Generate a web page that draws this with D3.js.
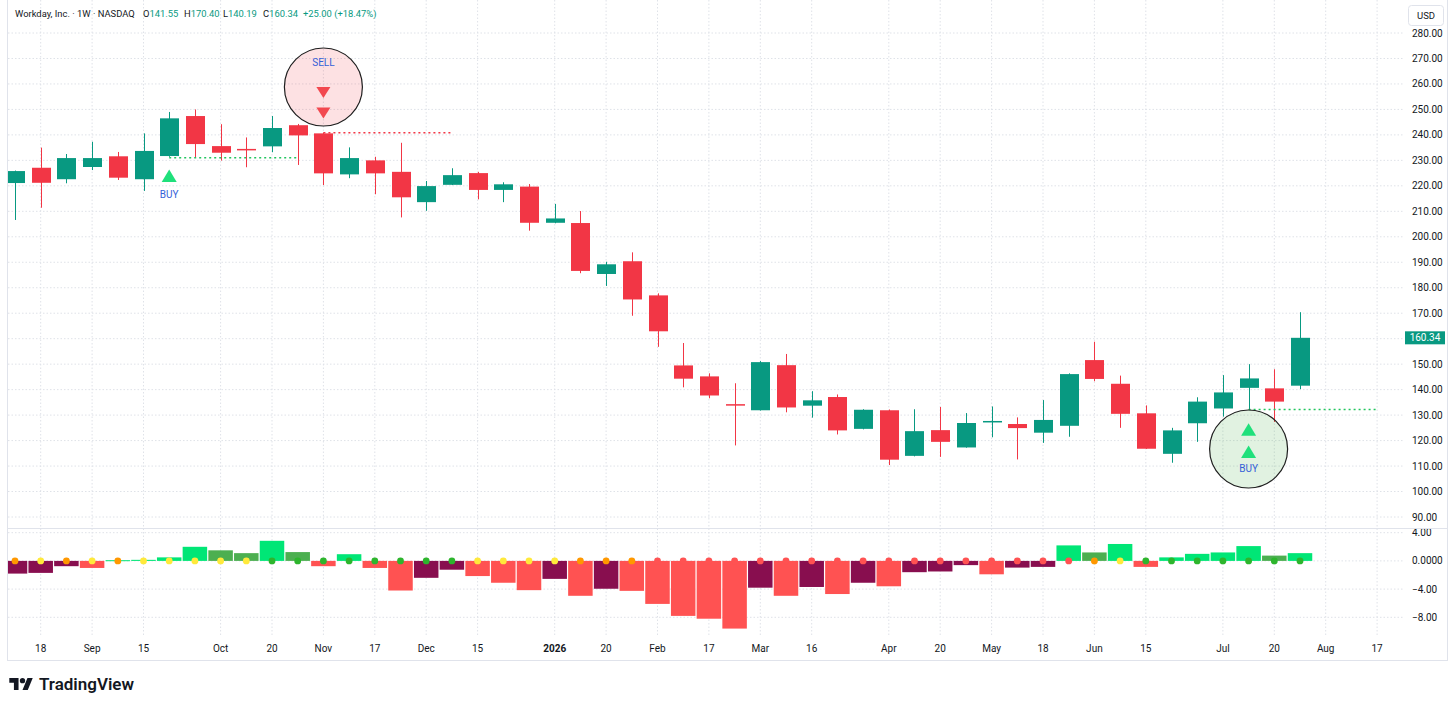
<!DOCTYPE html>
<html><head><meta charset="utf-8">
<script src="https://cdn.jsdelivr.net/npm/d3@7/dist/d3.min.js"></script>
<style>
body{margin:0;background:#fff;}
svg{display:block;font-family:Roboto,"Noto Sans",sans-serif;}
</style>
</head><body>
<svg id="c" width="1456" height="708"></svg>
<script>
// ---------------- DATA ----------------
const opens  = [221.1,227.1,222.6,227.4,231.6,222.6,231.7,247.4,235.6,234.5,235.5,243.8,240.6,224.5,230.0,225.5,213.6,220.4,225.0,218.4,219.7,205.5,205.4,185.4,190.4,177.0,149.5,145.2,134.3,131.9,149.6,133.7,137.1,124.6,131.9,114.0,124.1,117.3,127.2,126.5,123.1,125.8,151.6,142.3,130.7,114.8,126.8,132.6,140.7,140.5,141.55];
const highs  = [226.0,235.0,232.5,237.3,233.3,240.6,249.0,250.0,244.2,239.0,247.4,244.3,240.9,235.1,231.4,236.9,221.9,226.9,225.5,221.4,220.7,212.9,210.1,190.2,193.9,177.8,158.3,146.4,142.5,151.2,154.0,139.4,138.1,132.3,132.2,132.3,133.2,130.8,133.4,129.1,135.9,146.4,158.8,145.5,133.8,125.0,137.0,145.7,150.0,148.0,170.40];
const lows   = [206.6,211.4,221.0,226.2,222.3,218.0,231.4,231.2,229.9,227.3,233.2,228.2,220.3,223.0,216.7,207.6,210.2,220.3,214.7,213.6,202.4,205.3,185.7,180.7,169.0,156.8,140.9,136.6,118.1,131.8,131.1,129.0,122.4,124.4,110.4,113.8,113.6,117.2,121.3,112.6,119.1,121.5,143.3,125.0,116.7,111.3,119.5,129.4,132.0,127.3,140.19];
const closes = [225.8,221.2,230.9,230.9,223.2,233.7,246.5,236.4,233.0,234.2,242.7,239.8,224.9,230.9,224.9,215.5,219.9,224.2,218.4,220.6,205.5,207.2,186.6,189.2,175.4,162.9,144.3,137.7,134.0,150.8,133.0,135.8,124.0,132.1,112.5,123.7,119.5,126.9,127.7,124.9,128.1,146.1,144.2,130.5,116.8,124.0,135.3,138.9,144.4,135.3,160.34];

// squeeze momentum histogram
const momentum = [-1.8,-1.7,-0.75,-1.0,0.1,0.15,0.5,2.0,1.5,1.1,2.85,1.25,-0.75,0.95,-1.0,-4.2,-2.4,-1.25,-2.15,-3.1,-4.15,-2.55,-4.95,-3.95,-4.25,-6.1,-7.8,-8.2,-9.6,-3.8,-4.95,-3.7,-4.7,-3.1,-3.6,-1.6,-1.5,-0.6,-1.9,-0.95,-0.85,2.2,1.2,2.4,-0.85,0.5,1.0,1.2,2.1,0.75,1.1];
// squeeze dot state: o=orange, y=yellow, g=green, r=red
const dots = ["o","y","o","y","o","y","y","y","y","y","g","g","g","g","g","g","g","g","y","y","y","y","o","o","o","r","r","r","r","r","r","r","r","r","r","r","r","r","r","r","r","r","o","y","g","g","g","g","g","g","g"];

// time axis (week index -> label)
const tickIdx    = [1,3,5,8,10,12,14,16,18,21,23,25,27,29,31,34,36,38,40,42,44,47,49,51,53];
const tickLabels = ["18","Sep","15","Oct","20","Nov","17","Dec","15","2026","20","Feb","17","Mar","16","Apr","20","May","18","Jun","15","Jul","20","Aug","17"];
const priceTicks = [90,100,110,120,130,140,150,160,170,180,190,200,210,220,230,240,250,260,270,280];
const momTicks   = [4,0,-4,-8];

// signals
const signalLines = [
  {from:6,  to:11, price:231.0, type:"buy"},
  {from:12, to:17, price:240.8, type:"sell"},
  {from:48, to:53, price:132.2, type:"buy"}
];
const circles = [
  {i:12, price:258.8, type:"sell"},
  {i:48, price:116.7, type:"buy"}
];
const triangles = [
  {i:6,  price:223.9, type:"buy"},
  {i:12, price:256.6, type:"sell"},
  {i:12, price:248.6, type:"sell"},
  {i:48, price:124.3, type:"buy"},
  {i:48, price:115.5, type:"buy"}
];
const signalTexts = [
  {i:6,  price:216.6, text:"BUY"},
  {i:12, price:268.6, text:"SELL"},
  {i:48, price:109.0, text:"BUY"}
];
const headerParts = [
  {k:"", v:"Workday, Inc. · 1W · NASDAQ"},
  {k:"O", v:"141.55"},
  {k:"H", v:"170.40"},
  {k:"L", v:"140.19"},
  {k:"C", v:"160.34"},
  {k:"", v:"+25.00 (+18.47%)"}
];

// ---------------- LAYOUT ----------------
const svg = d3.select("#c");
const plotL = 8, plotR = 1404, paneSep = 528, axisTop = 637;
const x  = d3.scaleLinear().domain([0,50]).range([15,1300]);
const y  = d3.scaleLinear().domain([90,280]).range([517,33]);
const yi = d3.scaleLinear().domain([-8,4]).range([617.3,532.7]);
const step = x(1)-x(0);
const bodyW = 19, barW = step-1.2;

const UP="#089981", DN="#f23645", GRID="#dfe2e8";

const defs = svg.append("defs");
defs.append("clipPath").attr("id","cp").append("rect").attr("x",plotL).attr("y",0).attr("width",plotR-plotL).attr("height",paneSep);
defs.append("clipPath").attr("id","ci").append("rect").attr("x",plotL).attr("y",paneSep).attr("width",plotR-plotL).attr("height",axisTop-paneSep);
defs.append("clipPath").attr("id","cia").append("rect").attr("x",1400).attr("y",paneSep+1).attr("width",50).attr("height",axisTop-paneSep);

// grid
const g = svg.append("g");
g.selectAll(".vg").data(tickIdx).join("line")
  .attr("x1",d=>x(d)).attr("x2",d=>x(d)).attr("y1",0).attr("y2",axisTop)
  .attr("stroke",GRID).attr("stroke-dasharray","1.5,2");
g.selectAll(".hg").data(priceTicks).join("line")
  .attr("x1",plotL).attr("x2",plotR).attr("y1",d=>y(d)).attr("y2",d=>y(d))
  .attr("stroke",GRID).attr("stroke-dasharray","1.5,2");
g.selectAll(".hgi").data(momTicks).join("line")
  .attr("x1",plotL).attr("x2",plotR).attr("y1",d=>yi(d)).attr("y2",d=>yi(d))
  .attr("stroke",GRID).attr("stroke-dasharray","1.5,2");

// frame
svg.append("line").attr("x1",plotL-0.5).attr("x2",1447.5).attr("y1",paneSep+0.5).attr("y2",paneSep+0.5).attr("stroke","#e0e3eb");
svg.append("rect").attr("x",7.5).attr("y",-1).attr("width",1440).attr("height",661.5).attr("fill","none").attr("stroke","#e0e3eb");

// candles
const candles = d3.range(opens.length).map(i=>({i,o:opens[i],h:highs[i],l:lows[i],c:closes[i]}));
const cg = svg.append("g").attr("clip-path","url(#cp)");
cg.selectAll(".wick").data(candles).join("line")
  .attr("x1",d=>Math.round(x(d.i))+0.5).attr("x2",d=>Math.round(x(d.i))+0.5)
  .attr("y1",d=>y(d.h)).attr("y2",d=>y(d.l))
  .attr("stroke",d=>d.c>=d.o?UP:DN).attr("stroke-width",1);
cg.selectAll(".body").data(candles).join("rect")
  .attr("x",d=>Math.round(x(d.i))+0.5-bodyW/2).attr("width",bodyW)
  .attr("y",d=>y(Math.max(d.o,d.c)))
  .attr("height",d=>Math.max(1.5,Math.abs(y(d.o)-y(d.c))))
  .attr("fill",d=>d.c>=d.o?UP:DN);

// signal dotted lines
cg.selectAll(".sl").data(signalLines).join("line")
  .attr("x1",d=>x(d.from)).attr("x2",d=>x(d.to))
  .attr("y1",d=>y(d.price)).attr("y2",d=>y(d.price))
  .attr("stroke",d=>d.type==="buy"?"#22c55e":DN).attr("stroke-width",1.5).attr("stroke-dasharray","2,3");

// circles
cg.selectAll(".circ").data(circles).join("circle")
  .attr("cx",d=>x(d.i)).attr("cy",d=>y(d.price)).attr("r",39)
  .attr("fill",d=>d.type==="buy"?"rgba(76,175,80,0.17)":"rgba(242,54,69,0.15)")
  .attr("stroke","#1e1e1e").attr("stroke-width",1.2);

// triangles
cg.selectAll(".tri").data(triangles).join("path")
  .attr("transform",d=>`translate(${x(d.i)},${y(d.price)})`)
  .attr("d",d=>d.type==="buy" ? "M0,-6.5L7.5,6L-7.5,6Z" : "M-7,-5.5L7,-5.5L0,5.5Z")
  .attr("fill",d=>d.type==="buy"?"#1fe07b":"#f2484f");
cg.selectAll(".st").data(signalTexts).join("text")
  .attr("x",d=>x(d.i)).attr("y",d=>y(d.price)).attr("dy","0.35em")
  .attr("text-anchor","middle").attr("font-size",10).attr("fill","#3460d8").text(d=>d.text);

// momentum histogram
const mom = momentum.map((v,i)=>{
  const p = i>0?momentum[i-1]:v;
  let col;
  if(v>=0) col = (i===0||v>p)?"#00e676":"#4caf50";
  else col = (i===0||v>=p)?"#880e4f":"#ff5252";
  return {i,v,col,dot:dots[i]};
});
const ig = svg.append("g").attr("clip-path","url(#ci)");
ig.selectAll(".bar").data(mom).join("rect")
  .attr("x",d=>x(d.i)-barW/2).attr("width",barW)
  .attr("y",d=>yi(Math.max(0,d.v))).attr("height",d=>Math.max(1,Math.abs(yi(d.v)-yi(0))))
  .attr("fill",d=>d.col);
const dotCol = {o:"#ff9800",y:"#ffe93b",g:"#2db52d",r:"#ff5252"};
ig.selectAll(".dot").data(mom).join("circle")
  .attr("cx",d=>x(d.i)).attr("cy",yi(0)).attr("r",3.4).attr("fill",d=>dotCol[d.dot]);

// price axis labels
const AX = 1412, TXT="#131722";
svg.append("g").selectAll("text").data(priceTicks.filter(d=>d!==160)).join("text")
  .attr("x",AX).attr("y",d=>y(d)).attr("dy","0.35em").attr("font-size",10).attr("fill",TXT)
  .text(d=>d3.format(".2f")(d));
// last price label
const lastY = y(closes[closes.length-1]);
svg.append("rect").attr("x",1405).attr("y",lastY-6.5).attr("width",40).attr("height",13).attr("fill",UP);
svg.append("text").attr("x",1425).attr("y",lastY).attr("dy","0.35em").attr("text-anchor","middle")
  .attr("font-size",10).attr("fill","#fff").text(d3.format(".2f")(closes[closes.length-1]));
// USD
svg.append("rect").attr("x",1408.5).attr("y",5.5).attr("width",35).attr("height",20).attr("rx",3)
  .attr("fill","#fff").attr("stroke","#e0e3eb");
svg.append("text").attr("x",1426).attr("y",15.5).attr("dy","0.35em").attr("text-anchor","middle")
  .attr("font-size",9.5).attr("fill",TXT).text("USD");
// momentum axis labels
svg.append("g").attr("clip-path","url(#cia)").selectAll("text").data(momTicks).join("text")
  .attr("x",AX).attr("y",d=>yi(d)).attr("dy","0.35em").attr("font-size",10).attr("fill",TXT)
  .text(d=>d===0?"0.0000":(d<0?"\u2212":"")+d3.format(".2f")(Math.abs(d)));

// time axis labels
svg.append("g").selectAll("text").data(tickIdx).join("text")
  .attr("x",d=>x(d)).attr("y",648).attr("dy","0.35em").attr("text-anchor","middle")
  .attr("font-size",10).attr("fill",TXT)
  .attr("font-weight",(d,k)=>/^\d{4}$/.test(tickLabels[k])?"bold":"normal")
  .text((d,k)=>tickLabels[k]);

// header (left positions of each legend item)
const hx = [15,143,184,223,263,303];
headerParts.forEach((p,k)=>{
  const t = svg.append("text").attr("x",hx[k]).attr("y",14).attr("dy","0.35em").attr("font-size",9.4);
  if(p.k) t.append("tspan").attr("fill",TXT).text(p.k);
  t.append("tspan").attr("fill",k===0?TXT:UP).text(p.v);
});

// TradingView logo
const lg = svg.append("g").attr("transform","translate(9.3,675.4) scale(0.66)").attr("fill","#131722");
lg.append("path").attr("d","M14 22H7V11H0V4h14v18zM28 22h-8l7.5-18h8L28 22z");
lg.append("circle").attr("cx",20).attr("cy",8).attr("r",4);
svg.append("text").attr("x",39).attr("y",684).attr("dy","0.35em").attr("font-size",16.5).attr("font-weight",600)
  .attr("fill","#131722").attr("textLength",95).attr("lengthAdjust","spacingAndGlyphs").text("TradingView");
</script>
</body></html>
